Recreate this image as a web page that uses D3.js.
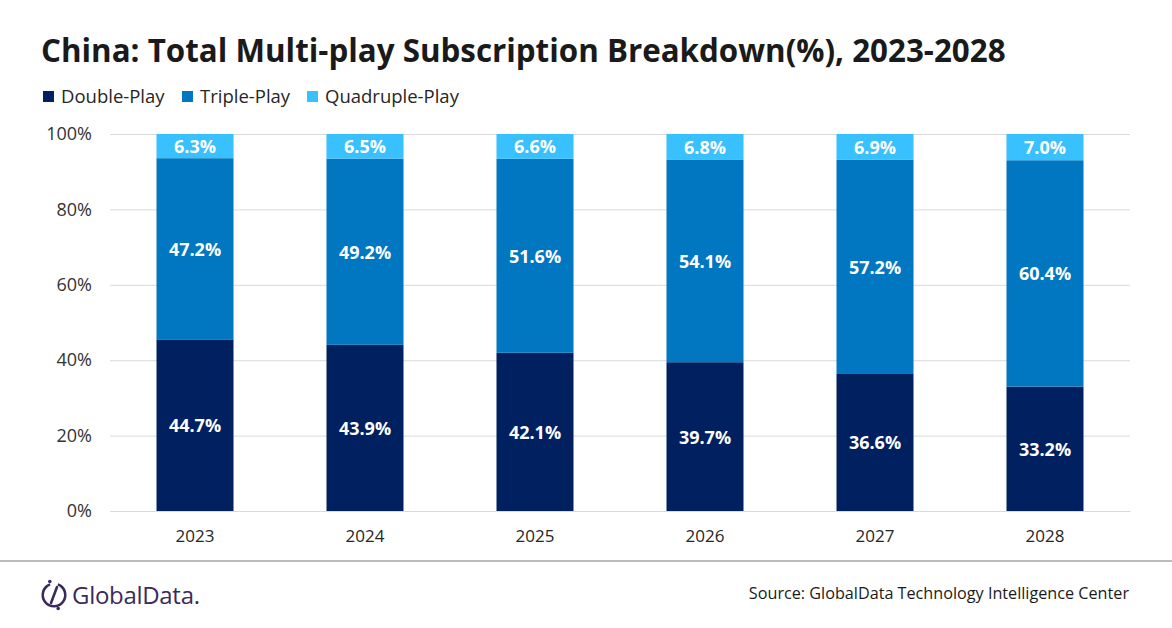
<!DOCTYPE html>
<html><head><meta charset="utf-8">
<script src="https://cdn.jsdelivr.net/npm/d3@7"></script>
<style>body{margin:0;background:#fff}svg{display:block}text{font-family:"Open Sans","Noto Sans",sans-serif}</style>
</head><body>
<svg id="chart" width="1172" height="628"></svg>
<script>
const years = ["2023","2024","2025","2026","2027","2028"];
const seriesNames = ["Double-Play","Triple-Play","Quadruple-Play"];
const doublePlay = [44.7,43.9,42.1,39.7,36.6,33.2];
const triplePlay = [47.2,49.2,51.6,54.1,57.2,60.4];
const quadruplePlay = [6.3,6.5,6.6,6.8,6.9,7.0];
const colors = ["#002060","#0077C0","#38C0FF"];
const yTicks = [0,20,40,60,80,100];

const svg = d3.select("#chart");
const W = 1172, H = 628;
const m = {left:110, right:1130, top:134, bottom:511};

const rows = years.map((y,i)=>({year:y,"Double-Play":doublePlay[i],"Triple-Play":triplePlay[i],"Quadruple-Play":quadruplePlay[i]}));
const stack = d3.stack().keys(seriesNames).offset(d3.stackOffsetExpand);
const stacked = stack(rows);

const x = d3.scaleBand().domain(years).range([m.left,m.right]).paddingInner(0.547).paddingOuter(0.2735);
const y = d3.scaleLinear().domain([0,1]).range([m.bottom,m.top]);

// title
const title = svg.append("text").attr("x",41).attr("y",62).attr("font-size",30).attr("font-weight",700).attr("fill","#1a1a1a")
  .text("China: Total Multi-play Subscription Breakdown(%), 2023-2028");
const tw = title.node().getComputedTextLength();
title.attr("font-size",30*965/tw);

// legend
const legX = [43,182,307];
seriesNames.forEach((s,i)=>{
  svg.append("rect").attr("x",legX[i]).attr("y",91).attr("width",11).attr("height",11).attr("fill",colors[i]);
  const t = svg.append("text").attr("x",legX[i]+18).attr("y",103).attr("font-size",18.5).attr("fill","#262626").text(s);
});

// grid + y axis
const yAxis = d3.axisLeft(y).tickValues(yTicks.map(v=>v/100)).tickSize(-(m.right-m.left)).tickFormat((d)=>Math.round(d*100)+"%");
const ga = svg.append("g").attr("transform",`translate(${m.left},0)`).call(yAxis);
ga.select(".domain").remove();
ga.selectAll(".tick line").attr("stroke","#d9d9d9").attr("stroke-width",1);
ga.selectAll(".tick text").attr("x",-18).attr("font-size",18).attr("fill","#333").attr("font-family","'Open Sans',sans-serif");

// bars
const layers = svg.append("g").selectAll("g").data(stacked).join("g").attr("fill",(d,i)=>colors[i]);
layers.selectAll("rect").data(d=>d).join("rect")
  .attr("x",d=>x(d.data.year)).attr("width",x.bandwidth())
  .attr("y",d=>y(d[1])).attr("height",d=>y(d[0])-y(d[1]));

// labels
const lab = svg.append("g");
stacked.forEach((layer)=>{
  layer.forEach(d=>{
    lab.append("text").attr("x",x(d.data.year)+x.bandwidth()/2).attr("y",(y(d[0])+y(d[1]))/2)
      .attr("text-anchor","middle").attr("dominant-baseline","central")
      .attr("font-size",18).attr("font-weight",700).attr("fill","#fff")
      .text(d.data[layer.key].toFixed(1)+"%");
  });
});

// x axis
const xAxis = d3.axisBottom(x).tickSize(0).tickPadding(0);
const gx = svg.append("g").attr("transform",`translate(0,${m.bottom})`).call(xAxis);
gx.select(".domain").attr("stroke","#d9d9d9");
gx.selectAll(".tick text").attr("y",19).attr("font-size",17).attr("fill","#262626").attr("font-family","'Open Sans',sans-serif");

// footer
svg.append("line").attr("x1",0).attr("x2",W).attr("y1",561).attr("y2",561).attr("stroke","#a6a6a6").attr("stroke-width",1.5);
svg.append("text").attr("x",1129).attr("y",599).attr("text-anchor","end").attr("font-size",16.2).attr("fill","#1a1a1a")
  .text("Source: GlobalData Technology Intelligence Center");

// logo
const lg = svg.append("g").attr("transform","translate(54,595)");
lg.append("path").attr("d",d3.arc()({innerRadius:10,outerRadius:12.6,startAngle:0.35,endAngle:Math.PI*2-0.35})).attr("fill","#3b2a5c");
lg.append("line").attr("x1",-3).attr("y1",8).attr("x2",3).attr("y2",-8).attr("stroke","#3b2a5c").attr("stroke-width",2.6).attr("stroke-linecap","round");
lg.append("circle").attr("cx",-4.2).attr("cy",-13.5).attr("r",1.8).attr("fill","#3b2a5c");
lg.append("circle").attr("cx",4.2).attr("cy",13.5).attr("r",1.8).attr("fill","#3b2a5c");
svg.append("text").attr("x",72).attr("y",604).attr("font-size",24).attr("font-weight",500).attr("fill","#3b2a5c")
  .attr("font-family","Lato,'Open Sans',sans-serif").attr("letter-spacing",-0.3).text("GlobalData.");
</script>
</body></html>
